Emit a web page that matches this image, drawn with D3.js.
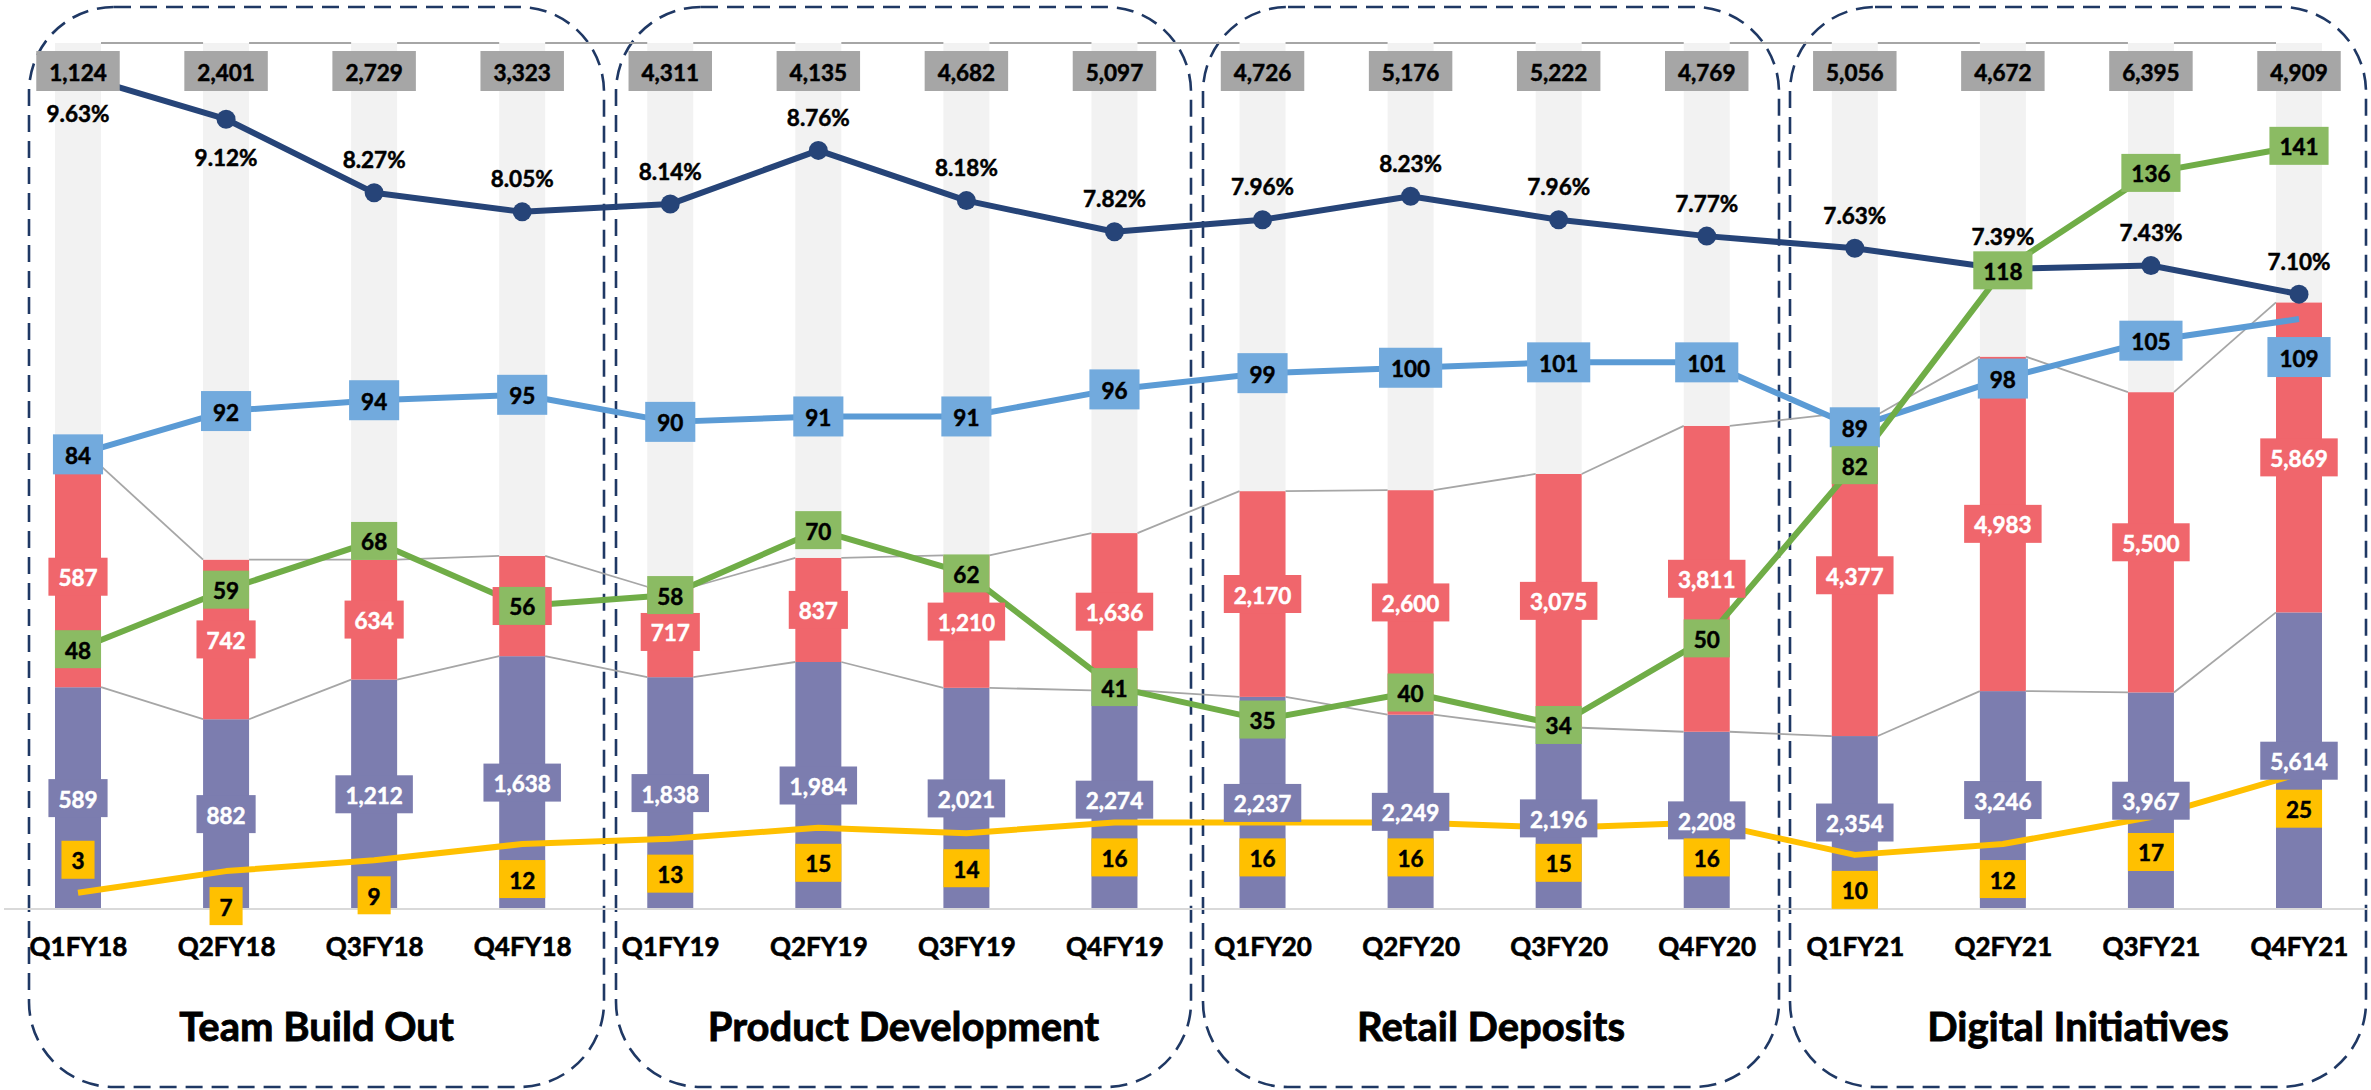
<!DOCTYPE html>
<html><head><meta charset="utf-8">
<script src="https://cdn.jsdelivr.net/npm/d3@7"></script>
<style>
html,body{margin:0;padding:0;background:#fff;}
svg{display:block;}
text{font-family:Lato,"Open Sans",sans-serif;font-weight:700;}
</style></head><body>
<svg id="chart" width="2371" height="1090"></svg>
<script>
// ---------- data ----------
const categories = ["Q1FY18","Q2FY18","Q3FY18","Q4FY18","Q1FY19","Q2FY19","Q3FY19","Q4FY19",
                    "Q1FY20","Q2FY20","Q3FY20","Q4FY20","Q1FY21","Q2FY21","Q3FY21","Q4FY21"];
const groupTitles = ["Team Build Out","Product Development","Retail Deposits","Digital Initiatives"];
const purpleVals = [589,882,1212,1638,1838,1984,2021,2274,2237,2249,2196,2208,2354,3246,3967,5614];
const redVals    = [587,742,634,650,717,837,1210,1636,2170,2600,3075,3811,4377,4983,5500,5869];
const grayVals   = [1124,2401,2729,3323,4311,4135,4682,5097,4726,5176,5222,4769,5056,4672,6395,4909];
const rateVals   = [0.0963,0.0912,0.0827,0.0805,0.0814,0.0876,0.0818,0.0782,0.0796,0.0823,0.0796,0.0777,0.0763,0.0739,0.0743,0.0710];
const blueVals   = [84,92,94,95,90,91,91,96,99,100,101,101,89,98,105,109];
const greenVals  = [48,59,68,56,58,70,62,41,35,40,34,50,82,118,136,141];
const yellowVals = [3,7,9,12,13,15,14,16,16,16,15,16,10,12,17,25];

// ---------- setup ----------
const svg = d3.select("#chart");
const yBase = 909, yTop = 43;
const x = d3.scalePoint().domain(categories).range([78, 2299]);
const barW = 46;
const yShare = d3.scaleLinear().domain([0, 1]).range([yBase, yTop]);
const yRate  = d3.scaleLinear().domain([0, 0.10]).range([yBase, yTop]);
const yCount = d3.scaleLinear().domain([0, 160]).range([yBase, yTop]);

const colors = {
  purple: "#7C7DAF", red: "#F0666C", gray: "#F2F2F2", grayLbl: "#A6A6A6",
  navy: "#264478", blue: "#5B9BD5", blueLbl: "#72AADD",
  green: "#70AD47", greenLbl: "#8BBB63", yellow: "#FFC000",
  seriesLine: "#A6A6A6", box: "#1F3864"
};

const rows = categories.map((c, i) => ({cat: c, purple: purpleVals[i], red: redVals[i], gray: grayVals[i]}));
const stack = d3.stack().keys(["purple","red","gray"]).offset(d3.stackOffsetExpand);
const layers = stack(rows);
const layerColor = {purple: colors.purple, red: colors.red, gray: colors.gray};

// ---------- group boxes ----------
const boxEdges = [[29,604],[616,1191],[1203,1779],[1790,2366]];
svg.append("g").selectAll("rect").data(boxEdges).join("rect")
  .attr("x", d => d[0]).attr("y", 7)
  .attr("width", d => d[1]-d[0]).attr("height", 1080)
  .attr("rx", 85).attr("ry", 85)
  .attr("fill", "none").attr("stroke", colors.box)
  .attr("stroke-width", 2.6).attr("stroke-dasharray", "17,9");

// ---------- bars ----------
const gBars = svg.append("g");
layers.forEach(layer => {
  gBars.append("g").attr("fill", layerColor[layer.key])
    .selectAll("rect").data(layer).join("rect")
    .attr("x", d => x(d.data.cat) - barW/2)
    .attr("y", d => yShare(d[1]))
    .attr("width", barW)
    .attr("height", d => yShare(d[0]) - yShare(d[1]));
});

// series lines
const gSer = svg.append("g").attr("stroke", colors.seriesLine).attr("stroke-width", 1.8).attr("fill","none");
layers.forEach(layer => {
  for (let i = 0; i < layer.length - 1; i++) {
    gSer.append("line")
      .attr("x1", x(categories[i]) + barW/2).attr("y1", yShare(layer[i][1]))
      .attr("x2", x(categories[i+1]) - barW/2).attr("y2", yShare(layer[i+1][1]));
  }
});

// baseline + category axis
svg.append("line").attr("x1", 4).attr("x2", 2368).attr("y1", yBase).attr("y2", yBase)
  .attr("stroke", "#D9D9D9").attr("stroke-width", 2);
const axis = svg.append("g").attr("transform", `translate(0,${yBase})`)
  .call(d3.axisBottom(x).tickSize(0).tickPadding(0));
axis.select(".domain").remove();
axis.selectAll("text").attr("y", 37).attr("dy", null)
  .style("font-size", "26px").style("font-family", "Lato").style("font-weight", 700)
  .attr("fill", "#000").attr("stroke", "#000").attr("stroke-width", 0.6)
  .attr("dominant-baseline", "central");

// group titles
svg.append("g").selectAll("text").data(groupTitles).join("text")
  .attr("x", (d, i) => (boxEdges[i][0] + boxEdges[i][1]) / 2)
  .attr("y", 1026).attr("text-anchor", "middle").attr("dominant-baseline", "central")
  .style("font-size", "40px").attr("fill", "#000").attr("stroke", "#000").attr("stroke-width", 0.8)
  .text(d => d);

// ---------- lines ----------
const gLines = svg.append("g").attr("fill", "none").attr("stroke-linejoin", "round");
const lineGen = (vals, scale) => d3.line().x((d, i) => x(categories[i])).y(d => scale(d))(vals);
gLines.append("path").attr("d", lineGen(yellowVals, yCount)).attr("stroke", colors.yellow).attr("stroke-width", 6);
gLines.append("path").attr("d", lineGen(blueVals, yCount)).attr("stroke", colors.blue).attr("stroke-width", 6);
gLines.append("path").attr("d", lineGen(greenVals, yCount)).attr("stroke", colors.green).attr("stroke-width", 6);
gLines.append("path").attr("d", lineGen(rateVals, yRate)).attr("stroke", colors.navy).attr("stroke-width", 6);
gLines.append("g").selectAll("circle").data(rateVals).join("circle")
  .attr("cx", (d, i) => x(categories[i])).attr("cy", d => yRate(d)).attr("r", 9.5)
  .attr("fill", colors.navy);

// ---------- labels ----------
const gLbl = svg.append("g");
const fmt = d3.format(",");
function boxLabel(cx, cy, txt, bg, fg, pad, h, showText = true) {
  const g = gLbl.append("g");
  const r = g.append("rect").attr("fill", bg);
  const t = g.append("text").attr("x", cx).attr("y", cy + 1)
    .attr("text-anchor", "middle").attr("dominant-baseline", "central")
    .attr("fill", fg).attr("stroke", fg).attr("stroke-width", 0.5)
    .style("font-size", "22.5px").text(txt);
  const w = t.node().getComputedTextLength() + 2 * pad;
  r.attr("x", cx - w/2).attr("y", cy - h/2).attr("width", w).attr("height", h);
  if (!showText) t.remove();
}
// label boxes that sit completely underneath another series' label keep only their box
const coveredRed = new Set([3]);
// stacked segment labels
layers.forEach(layer => {
  layer.forEach((d, i) => {
    const cx = x(d.data.cat);
    if (layer.key === "gray") {
      boxLabel(cx, 71, fmt(d.data.gray), colors.grayLbl, "#000", 13, 40);
    } else {
      const cy = (yShare(d[0]) + yShare(d[1])) / 2;
      const show = !(layer.key === "red" && coveredRed.has(i));
      boxLabel(cx, cy, fmt(d.data[layer.key]), layerColor[layer.key], "#fff", 10, 38, show);
    }
  });
});
// yellow labels (below, first above)
yellowVals.forEach((v, i) => {
  const off = i === 0 ? -33 : 35;
  boxLabel(x(categories[i]), yCount(v) + off, fmt(v), colors.yellow, "#000", 10, 38);
});
// blue labels (centered; last below)
blueVals.forEach((v, i) => {
  const off = i === blueVals.length - 1 ? 38 : 0;
  boxLabel(x(categories[i]), yCount(v) + off, fmt(v), colors.blueLbl, "#000", 12, 40);
});
// green labels (centered)
greenVals.forEach((v, i) => {
  boxLabel(x(categories[i]), yCount(v), fmt(v), colors.greenLbl, "#000", 10, 38);
});
// rate labels (above; first two below)
const pct = d3.format(".2%");
gLbl.append("g").selectAll("text").data(rateVals).join("text")
  .attr("x", (d, i) => x(categories[i]))
  .attr("y", (d, i) => yRate(d) + (i < 2 ? 38 : -33))
  .attr("text-anchor", "middle").attr("dominant-baseline", "central")
  .style("font-size", "22.5px").attr("fill", "#000").attr("stroke", "#000").attr("stroke-width", 0.5)
  .text(d => pct(d));
</script>
</body></html>
